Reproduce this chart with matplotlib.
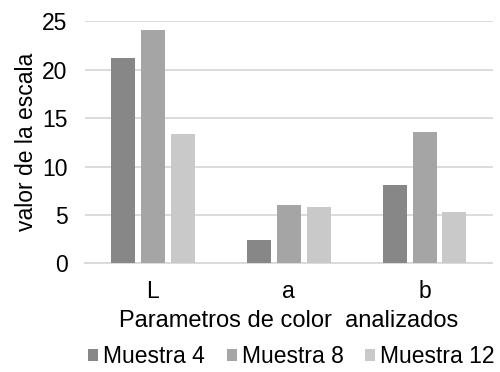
import numpy as np
import matplotlib
matplotlib.use("Agg")
import matplotlib.pyplot as plt

plt.rcParams['font.family'] = ['Liberation Sans', 'DejaVu Sans']

categories = ['L', 'a', 'b']
series_names = ['Muestra 4', 'Muestra 8', 'Muestra 12']
muestra4 = [21.2, 2.45, 8.05]
muestra8 = [24.1, 6.0, 13.55]
muestra12 = [13.35, 5.8, 5.3]
colors = ['#878787', '#a5a5a5', '#c9c9c9']

fs = 16.5

fig = plt.figure(figsize=(5, 3.72), dpi=100)
ax = fig.add_axes([0.17, 0.292, 0.815, 0.651])

x = np.arange(len(categories))
step = 0.22
width = 0.177
for i, (vals, name, c) in enumerate(zip([muestra4, muestra8, muestra12], series_names, colors)):
    ax.bar(x + (i - 1) * step, vals, width, color=c, label=name, zorder=3)

ax.set_xlim(-0.5, 2.5)
ax.set_ylim(0, 25)
ax.set_yticks([0, 5, 10, 15, 20, 25])
ax.set_xticks(x)
ax.set_xticklabels(categories)
ax.yaxis.grid(True, color='#d9d9d9', linewidth=1.3, zorder=0)
for s in ['top', 'right', 'left']:
    ax.spines[s].set_visible(False)
ax.spines['bottom'].set_color('#d9d9d9')
ax.spines['bottom'].set_linewidth(1.3)
ax.tick_params(length=0, labelsize=fs, colors='#000000')
ax.tick_params(axis='y', pad=12.5)
ax.tick_params(axis='x', pad=12)

ax.set_ylabel('valor de la escala', fontsize=fs, labelpad=3)
ax.set_xlabel('Parametros de color  analizados', fontsize=17, labelpad=5)

fig.legend(loc='center', bbox_to_anchor=(0.583, 0.042), bbox_transform=fig.transFigure,
           ncol=3, frameon=False, fontsize=fs, handlelength=0.43, handleheight=0.43,
           handletextpad=0.22, columnspacing=0.95, borderaxespad=0, borderpad=0)

fig.savefig('out.png', dpi=100)
